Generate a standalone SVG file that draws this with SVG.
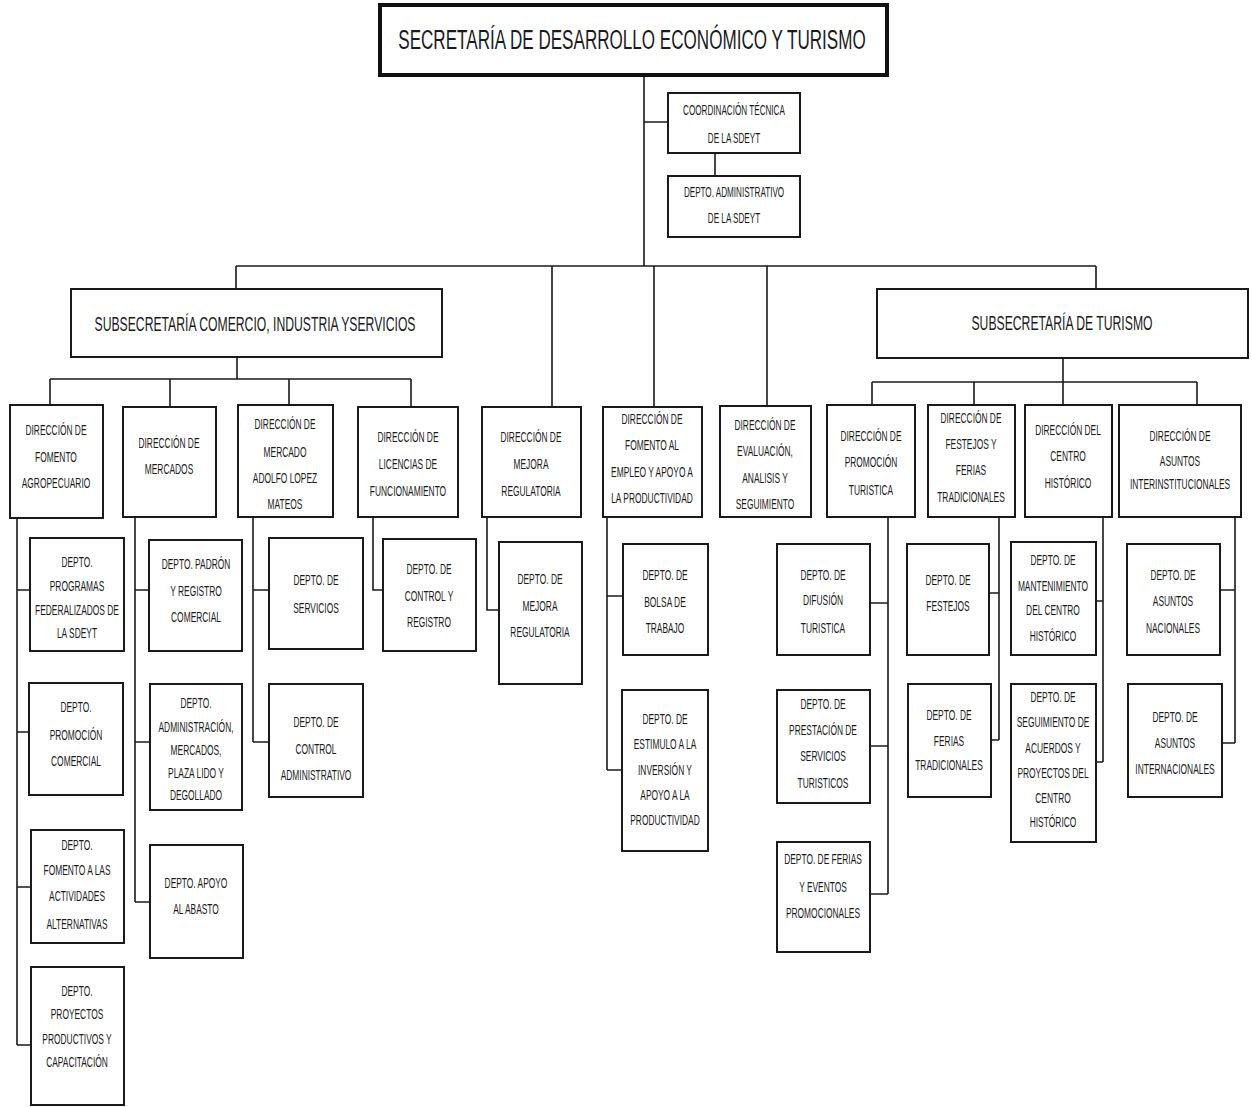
<svg xmlns="http://www.w3.org/2000/svg" width="1251" height="1107" viewBox="0 0 1251 1107">
<style>
.b{fill:#fff;stroke:#1a1a1a;stroke-width:2}
.c{fill:none;stroke:#1a1a1a;stroke-width:1.6}
text{font-family:"Liberation Sans",Arial,sans-serif;fill:#1a1a1a;text-anchor:middle}
.s{font-size:14px}
.m{font-size:20px}
.t{font-size:28px}
</style>
<rect width="1251" height="1107" fill="#fff"/>
<g id="connectors" class="c">
<path d="M644 75V266M644 122H668M715 153V176"/>
<path d="M236 266H1096M236 266V289M552 266V407M654 266V407M767 266V406M1096 266V289"/>
<path d="M237 357V379M50 379H411M50 379V405M170 379V407M289 379V405M411 379V407"/>
<path d="M1063 358V405M872 382H1197M872 382V405M974 382V405M1197 382V405"/>
<path d="M17 518V1045M17 590H30M17 732H29M17 887H31M17 1045H31"/>
<path d="M135 517V902M135 590H149M135 742H150M135 902H150"/>
<path d="M253 517V742M253 590H269M253 742H269"/>
<path d="M373 517V590H383"/>
<path d="M487 517V610H499"/>
<path d="M607 517V770M607 596H623M607 770H622"/>
<path d="M888 517V894M870 603H888M870 746H888M870 894H888"/>
<path d="M999 517V740M989 593H999M991 740H999"/>
<path d="M1103 517V762M1096 601H1103M1096 762H1103"/>
<path d="M1235 517V743M1220 590H1235M1222 743H1235"/>
</g>
<g id="n-sdeyt"><rect x="380" y="5" width="507" height="70" fill="#fff" stroke="#111" stroke-width="4"/><text class="t" transform="translate(632,49) scale(0.61,1)">SECRETARÍA DE DESARROLLO ECONÓMICO Y TURISMO</text></g>
<g id="n-coord"><rect class="b" x="668" y="93" width="132" height="60"/><text class="s" transform="translate(734,115) scale(0.58,1)">COORDINACIÓN TÉCNICA</text><text class="s" transform="translate(734,143) scale(0.58,1)">DE LA SDEYT</text></g>
<g id="n-admin"><rect class="b" x="668" y="176" width="132" height="61"/><text class="s" transform="translate(734,197) scale(0.58,1)">DEPTO. ADMINISTRATIVO</text><text class="s" transform="translate(734,223) scale(0.58,1)">DE LA SDEYT</text></g>
<g id="n-subcom"><rect class="b" x="71" y="289" width="371" height="68"/><text class="m" transform="translate(255,331) scale(0.61,1)">SUBSECRETARÍA COMERCIO, INDUSTRIA YSERVICIOS</text></g>
<g id="n-subtur"><rect class="b" x="877" y="289" width="371" height="69"/><text class="m" transform="translate(1062,330) scale(0.61,1)">SUBSECRETARÍA DE TURISMO</text></g>
<g id="n-d-agro"><rect class="b" x="10" y="405" width="93" height="113"/><text class="s" transform="translate(56,435) scale(0.6,1)">DIRECCIÓN DE</text><text class="s" transform="translate(56,462) scale(0.6,1)">FOMENTO</text><text class="s" transform="translate(56,488) scale(0.6,1)">AGROPECUARIO</text></g>
<g id="n-d-merc"><rect class="b" x="123" y="407" width="93" height="110"/><text class="s" transform="translate(169,448) scale(0.6,1)">DIRECCIÓN DE</text><text class="s" transform="translate(169,474) scale(0.6,1)">MERCADOS</text></g>
<g id="n-d-alm"><rect class="b" x="238" y="405" width="95" height="112"/><text class="s" transform="translate(285,429) scale(0.6,1)">DIRECCIÓN DE</text><text class="s" transform="translate(285,457) scale(0.6,1)">MERCADO</text><text class="s" transform="translate(285,483) scale(0.6,1)">ADOLFO LOPEZ</text><text class="s" transform="translate(285,509) scale(0.6,1)">MATEOS</text></g>
<g id="n-d-lic"><rect class="b" x="358" y="407" width="100" height="110"/><text class="s" transform="translate(408,442) scale(0.6,1)">DIRECCIÓN DE</text><text class="s" transform="translate(408,469) scale(0.6,1)">LICENCIAS DE</text><text class="s" transform="translate(408,496) scale(0.6,1)">FUNCIONAMIENTO</text></g>
<g id="n-d-mejora"><rect class="b" x="482" y="407" width="99" height="110"/><text class="s" transform="translate(531,442) scale(0.6,1)">DIRECCIÓN DE</text><text class="s" transform="translate(531,469) scale(0.6,1)">MEJORA</text><text class="s" transform="translate(531,496) scale(0.6,1)">REGULATORIA</text></g>
<g id="n-d-empleo"><rect class="b" x="603" y="407" width="99" height="110"/><text class="s" transform="translate(652,424) scale(0.6,1)">DIRECCIÓN DE</text><text class="s" transform="translate(652,450) scale(0.6,1)">FOMENTO AL</text><text class="s" transform="translate(652,477) scale(0.6,1)">EMPLEO Y APOYO A</text><text class="s" transform="translate(652,503) scale(0.6,1)">LA PRODUCTIVIDAD</text></g>
<g id="n-d-eval"><rect class="b" x="720" y="406" width="91" height="111"/><text class="s" transform="translate(765,430) scale(0.6,1)">DIRECCIÓN DE</text><text class="s" transform="translate(765,456) scale(0.6,1)">EVALUACIÓN,</text><text class="s" transform="translate(765,483) scale(0.6,1)">ANALISIS Y</text><text class="s" transform="translate(765,509) scale(0.6,1)">SEGUIMIENTO</text></g>
<g id="n-d-promo"><rect class="b" x="827" y="405" width="88" height="112"/><text class="s" transform="translate(871,441) scale(0.6,1)">DIRECCIÓN DE</text><text class="s" transform="translate(871,467) scale(0.6,1)">PROMOCIÓN</text><text class="s" transform="translate(871,495) scale(0.6,1)">TURISTICA</text></g>
<g id="n-d-fest"><rect class="b" x="928" y="405" width="87" height="112"/><text class="s" transform="translate(971,423) scale(0.6,1)">DIRECCIÓN DE</text><text class="s" transform="translate(971,449) scale(0.6,1)">FESTEJOS Y</text><text class="s" transform="translate(971,475) scale(0.6,1)">FERIAS</text><text class="s" transform="translate(971,502) scale(0.6,1)">TRADICIONALES</text></g>
<g id="n-d-centro"><rect class="b" x="1025" y="405" width="87" height="112"/><text class="s" transform="translate(1068,435) scale(0.6,1)">DIRECCIÓN DEL</text><text class="s" transform="translate(1068,461) scale(0.6,1)">CENTRO</text><text class="s" transform="translate(1068,488) scale(0.6,1)">HISTÓRICO</text></g>
<g id="n-d-asuntos"><rect class="b" x="1119" y="405" width="122" height="112"/><text class="s" transform="translate(1180,441) scale(0.6,1)">DIRECCIÓN DE</text><text class="s" transform="translate(1180,466) scale(0.6,1)">ASUNTOS</text><text class="s" transform="translate(1180,489) scale(0.6,1)">INTERINSTITUCIONALES</text></g>
<g id="n-prog"><rect class="b" x="30" y="538" width="94" height="113"/><text class="s" transform="translate(77,567) scale(0.6,1)">DEPTO.</text><text class="s" transform="translate(77,591) scale(0.6,1)">PROGRAMAS</text><text class="s" transform="translate(77,615) scale(0.6,1)">FEDERALIZADOS DE</text><text class="s" transform="translate(77,638) scale(0.6,1)">LA SDEYT</text></g>
<g id="n-promcom"><rect class="b" x="29" y="683" width="94" height="112"/><text class="s" transform="translate(76,712) scale(0.6,1)">DEPTO.</text><text class="s" transform="translate(76,740) scale(0.6,1)">PROMOCIÓN</text><text class="s" transform="translate(76,766) scale(0.6,1)">COMERCIAL</text></g>
<g id="n-fomalt"><rect class="b" x="31" y="830" width="93" height="113"/><text class="s" transform="translate(77,850) scale(0.6,1)">DEPTO.</text><text class="s" transform="translate(77,875) scale(0.6,1)">FOMENTO A LAS</text><text class="s" transform="translate(77,901) scale(0.6,1)">ACTIVIDADES</text><text class="s" transform="translate(77,929) scale(0.6,1)">ALTERNATIVAS</text></g>
<g id="n-proy"><rect class="b" x="31" y="967" width="93" height="138"/><text class="s" transform="translate(77,996) scale(0.6,1)">DEPTO.</text><text class="s" transform="translate(77,1019) scale(0.6,1)">PROYECTOS</text><text class="s" transform="translate(77,1044) scale(0.6,1)">PRODUCTIVOS Y</text><text class="s" transform="translate(77,1067) scale(0.6,1)">CAPACITACIÓN</text></g>
<g id="n-padron"><rect class="b" x="149" y="540" width="93" height="111"/><text class="s" transform="translate(196,569) scale(0.6,1)">DEPTO. PADRÓN</text><text class="s" transform="translate(196,596) scale(0.6,1)">Y REGISTRO</text><text class="s" transform="translate(196,622) scale(0.6,1)">COMERCIAL</text></g>
<g id="n-admmerc"><rect class="b" x="150" y="684" width="92" height="126"/><text class="s" transform="translate(196,708) scale(0.6,1)">DEPTO.</text><text class="s" transform="translate(196,732) scale(0.6,1)">ADMINISTRACIÓN,</text><text class="s" transform="translate(196,755) scale(0.6,1)">MERCADOS,</text><text class="s" transform="translate(196,778) scale(0.6,1)">PLAZA LIDO Y</text><text class="s" transform="translate(196,800) scale(0.6,1)">DEGOLLADO</text></g>
<g id="n-abasto"><rect class="b" x="150" y="845" width="93" height="113"/><text class="s" transform="translate(196,888) scale(0.6,1)">DEPTO. APOYO</text><text class="s" transform="translate(196,914) scale(0.6,1)">AL ABASTO</text></g>
<g id="n-serv"><rect class="b" x="269" y="538" width="94" height="111"/><text class="s" transform="translate(316,585) scale(0.6,1)">DEPTO. DE</text><text class="s" transform="translate(316,613) scale(0.6,1)">SERVICIOS</text></g>
<g id="n-ctladm"><rect class="b" x="269" y="684" width="94" height="113"/><text class="s" transform="translate(316,727) scale(0.6,1)">DEPTO. DE</text><text class="s" transform="translate(316,754) scale(0.6,1)">CONTROL</text><text class="s" transform="translate(316,780) scale(0.6,1)">ADMINISTRATIVO</text></g>
<g id="n-ctlreg"><rect class="b" x="383" y="539" width="93" height="112"/><text class="s" transform="translate(429,574) scale(0.6,1)">DEPTO. DE</text><text class="s" transform="translate(429,601) scale(0.6,1)">CONTROL Y</text><text class="s" transform="translate(429,627) scale(0.6,1)">REGISTRO</text></g>
<g id="n-mejreg"><rect class="b" x="499" y="542" width="83" height="142"/><text class="s" transform="translate(540,584) scale(0.6,1)">DEPTO. DE</text><text class="s" transform="translate(540,611) scale(0.6,1)">MEJORA</text><text class="s" transform="translate(540,637) scale(0.6,1)">REGULATORIA</text></g>
<g id="n-bolsa"><rect class="b" x="623" y="544" width="85" height="111"/><text class="s" transform="translate(665,580) scale(0.6,1)">DEPTO. DE</text><text class="s" transform="translate(665,607) scale(0.6,1)">BOLSA DE</text><text class="s" transform="translate(665,633) scale(0.6,1)">TRABAJO</text></g>
<g id="n-estim"><rect class="b" x="622" y="690" width="86" height="161"/><text class="s" transform="translate(665,724) scale(0.6,1)">DEPTO. DE</text><text class="s" transform="translate(665,749) scale(0.6,1)">ESTIMULO A LA</text><text class="s" transform="translate(665,775) scale(0.6,1)">INVERSIÓN Y</text><text class="s" transform="translate(665,800) scale(0.6,1)">APOYO A LA</text><text class="s" transform="translate(665,825) scale(0.6,1)">PRODUCTIVIDAD</text></g>
<g id="n-difus"><rect class="b" x="777" y="544" width="93" height="111"/><text class="s" transform="translate(823,580) scale(0.6,1)">DEPTO. DE</text><text class="s" transform="translate(823,605) scale(0.6,1)">DIFUSIÓN</text><text class="s" transform="translate(823,633) scale(0.6,1)">TURISTICA</text></g>
<g id="n-prest"><rect class="b" x="777" y="690" width="93" height="113"/><text class="s" transform="translate(823,709) scale(0.6,1)">DEPTO. DE</text><text class="s" transform="translate(823,735) scale(0.6,1)">PRESTACIÓN DE</text><text class="s" transform="translate(823,761) scale(0.6,1)">SERVICIOS</text><text class="s" transform="translate(823,788) scale(0.6,1)">TURISTICOS</text></g>
<g id="n-ferev"><rect class="b" x="777" y="842" width="93" height="110"/><text class="s" transform="translate(823,864) scale(0.6,1)">DEPTO. DE FERIAS</text><text class="s" transform="translate(823,892) scale(0.6,1)">Y EVENTOS</text><text class="s" transform="translate(823,918) scale(0.6,1)">PROMOCIONALES</text></g>
<g id="n-festejos"><rect class="b" x="907" y="544" width="82" height="111"/><text class="s" transform="translate(948,585) scale(0.6,1)">DEPTO. DE</text><text class="s" transform="translate(948,611) scale(0.6,1)">FESTEJOS</text></g>
<g id="n-fertrad"><rect class="b" x="908" y="684" width="83" height="113"/><text class="s" transform="translate(949,720) scale(0.6,1)">DEPTO. DE</text><text class="s" transform="translate(949,746) scale(0.6,1)">FERIAS</text><text class="s" transform="translate(949,770) scale(0.6,1)">TRADICIONALES</text></g>
<g id="n-mant"><rect class="b" x="1011" y="542" width="85" height="113"/><text class="s" transform="translate(1053,565) scale(0.6,1)">DEPTO. DE</text><text class="s" transform="translate(1053,591) scale(0.6,1)">MANTENIMIENTO</text><text class="s" transform="translate(1053,615) scale(0.6,1)">DEL CENTRO</text><text class="s" transform="translate(1053,641) scale(0.6,1)">HISTÓRICO</text></g>
<g id="n-segui"><rect class="b" x="1011" y="684" width="85" height="158"/><text class="s" transform="translate(1053,702) scale(0.6,1)">DEPTO. DE</text><text class="s" transform="translate(1053,727) scale(0.6,1)">SEGUIMIENTO DE</text><text class="s" transform="translate(1053,753) scale(0.6,1)">ACUERDOS Y</text><text class="s" transform="translate(1053,778) scale(0.6,1)">PROYECTOS DEL</text><text class="s" transform="translate(1053,803) scale(0.6,1)">CENTRO</text><text class="s" transform="translate(1053,827) scale(0.6,1)">HISTÓRICO</text></g>
<g id="n-nac"><rect class="b" x="1127" y="544" width="93" height="111"/><text class="s" transform="translate(1173,580) scale(0.6,1)">DEPTO. DE</text><text class="s" transform="translate(1173,606) scale(0.6,1)">ASUNTOS</text><text class="s" transform="translate(1173,633) scale(0.6,1)">NACIONALES</text></g>
<g id="n-int"><rect class="b" x="1128" y="684" width="94" height="113"/><text class="s" transform="translate(1175,722) scale(0.6,1)">DEPTO. DE</text><text class="s" transform="translate(1175,748) scale(0.6,1)">ASUNTOS</text><text class="s" transform="translate(1175,774) scale(0.6,1)">INTERNACIONALES</text></g>
</svg>
